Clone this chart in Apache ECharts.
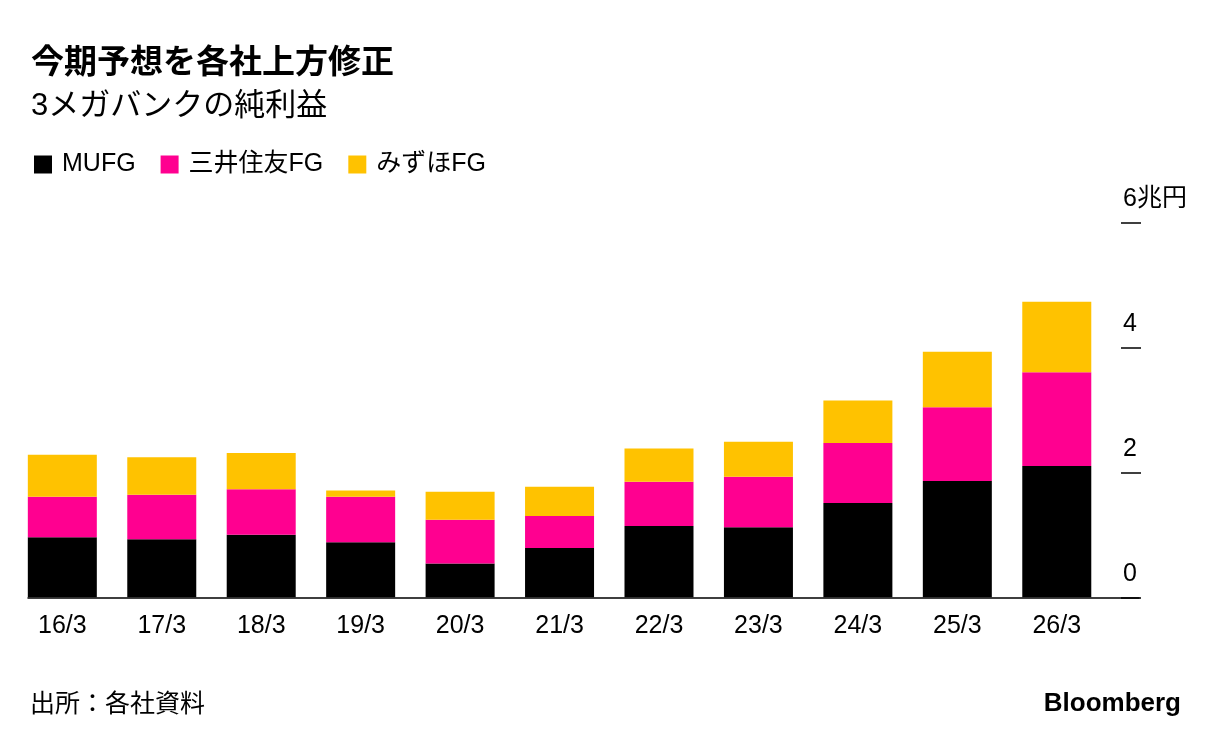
<!DOCTYPE html>
<html>
<head>
<meta charset="utf-8">
<script src="https://cdn.jsdelivr.net/npm/echarts@6/dist/echarts.min.js"></script>
<style>
html,body{margin:0;padding:0;background:#fff;}
#c{width:1223px;height:744px;}
</style>
</head>
<body>
<div id="c"></div>
<script>
const categories = ['16/3','17/3','18/3','19/3','20/3','21/3','22/3','23/3','24/3','25/3','26/3'];
const mufg  = [0.96, 0.93, 1.00, 0.88, 0.54, 0.79, 1.14, 1.12, 1.51, 1.86, 2.10];
const smfg  = [0.65, 0.71, 0.73, 0.73, 0.70, 0.51, 0.71, 0.81, 0.96, 1.18, 1.50];
const mizuho = [0.67, 0.60, 0.58, 0.10, 0.45, 0.47, 0.53, 0.56, 0.68, 0.89, 1.13];
const seriesNames = ['MUFG', '三井住友FG', 'みずほFG'];
const yTicks = [0, 2, 4, 6];

const FONT = "'Liberation Sans', 'Noto Sans CJK JP', sans-serif";
const colors = ['#000000', '#ff0090', '#ffc200'];

const chart = echarts.init(document.getElementById('c'), null, {renderer: 'canvas'});
const option = {
  animation: false,
  backgroundColor: '#ffffff',
  textStyle: {fontFamily: FONT},
  title: [
    {text: '今期予想を各社上方修正', left: 26, top: 42,
     textStyle: {fontFamily: FONT, fontSize: 33, fontWeight: 'bold', color: '#000'}},
    {text: '3メガバンクの純利益', left: 26, top: 86,
     textStyle: {fontFamily: FONT, fontSize: 31, fontWeight: 'normal', color: '#000'}},
    {text: '出所：各社資料', left: 25, top: 688,
     textStyle: {fontFamily: FONT, fontSize: 25, fontWeight: 'normal', color: '#000'}},
    {text: 'Bloomberg', right: 37, top: 686,
     textStyle: {fontFamily: FONT, fontSize: 26, fontWeight: 'bold', color: '#000'}}
  ],
  legend: {
    data: seriesNames,
    left: 29, top: 147,
    icon: 'rect', itemWidth: 18, itemHeight: 18, itemGap: 25,
    textStyle: {fontFamily: FONT, fontSize: 25, color: '#000', padding: [0, 0, 0, 5]}
  },
  grid: [
    {left: 12.6, right: 116.5, top: 222.3, bottom: 146.7},
    {left: 28, right: 84, top: 222.3, bottom: 146.7}
  ],
  xAxis: [
    {type: 'category', data: categories, gridIndex: 0,
     axisLine: {show: false}, axisTick: {show: false},
     axisLabel: {fontFamily: FONT, fontSize: 25, color: '#000', margin: 16}},
    {type: 'value', gridIndex: 1, min: 0, max: 1,
     axisLine: {show: true, lineStyle: {color: '#000', width: 1.5}},
     axisTick: {show: false}, axisLabel: {show: false}, splitLine: {show: false}}
  ],
  yAxis: [
    {type: 'value', gridIndex: 0, position: 'right', min: 0, max: 6, interval: 2, offset: 14.5,
     axisLine: {show: false},
     axisTick: {show: true, length: 20, lineStyle: {color: '#000', width: 1.5}},
     splitLine: {show: false},
     axisLabel: {fontFamily: FONT, fontSize: 25, color: '#000', margin: 2, align: 'left',
       verticalAlign: 'bottom', padding: [0, 0, 11, 0],
       formatter: v => (v === yTicks[yTicks.length - 1] ? v + '兆円' : String(v))}},
    {type: 'value', gridIndex: 1, show: false, min: 0, max: 1}
  ],
  series: [
    {name: seriesNames[0], type: 'bar', stack: 's', data: mufg, barWidth: 69, itemStyle: {color: colors[0]}},
    {name: seriesNames[1], type: 'bar', stack: 's', data: smfg, barWidth: 69, itemStyle: {color: colors[1]}},
    {name: seriesNames[2], type: 'bar', stack: 's', data: mizuho, barWidth: 69, itemStyle: {color: colors[2]}}
  ]
};
chart.setOption(option);
</script>
</body>
</html>
